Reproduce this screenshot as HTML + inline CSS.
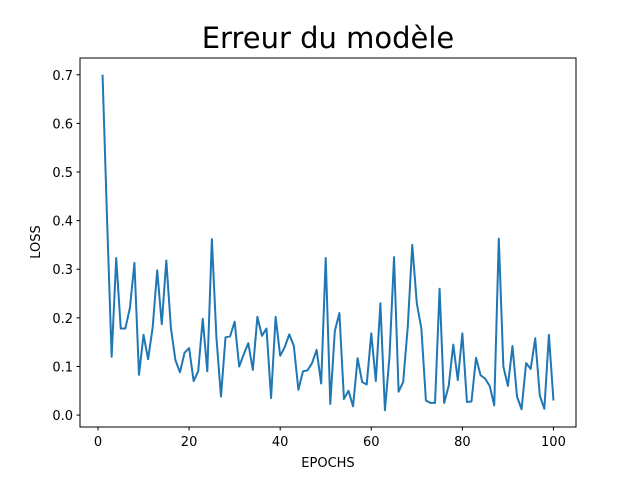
<!DOCTYPE html>
<html><head><meta charset="utf-8"><style>
body{margin:0;background:#fff;}
svg text{font-family:"DejaVu Sans","Liberation Sans",sans-serif;fill:#000;}
</style></head><body>
<svg id="chart" width="640" height="480">
<rect width="640" height="480" fill="#fff"/>
<text x="328" y="48" font-size="29" text-anchor="middle">Erreur du modèle</text>
<g id="ticks"></g>
<polyline id="line" fill="none" stroke="#1f77b4" stroke-width="2" stroke-linejoin="round"/>
<rect x="80" y="58" width="496" height="369" fill="none" stroke="#000" stroke-width="1"/>
<text x="328" y="467" font-size="13" text-anchor="middle">EPOCHS</text>
<text transform="translate(40,242) rotate(-90)" font-size="13" text-anchor="middle">LOSS</text>
</svg>
<script>
const loss=[0.70,0.40,0.12,0.323,0.178,0.178,0.22,0.313,0.083,0.165,0.115,0.18,0.298,0.187,0.318,0.18,0.113,0.088,0.128,0.138,0.07,0.09,0.198,0.09,0.362,0.16,0.038,0.16,0.162,0.192,0.1,0.125,0.148,0.093,0.202,0.163,0.178,0.035,0.202,0.122,0.14,0.166,0.142,0.052,0.09,0.092,0.107,0.134,0.065,0.323,0.023,0.173,0.21,0.033,0.05,0.018,0.117,0.068,0.063,0.168,0.07,0.23,0.01,0.12,0.325,0.048,0.068,0.18,0.35,0.23,0.178,0.03,0.025,0.025,0.26,0.025,0.06,0.145,0.072,0.168,0.027,0.028,0.118,0.082,0.075,0.06,0.02,0.363,0.1,0.06,0.142,0.038,0.012,0.107,0.095,0.158,0.04,0.013,0.165,0.03];
const xTicks=[0,20,40,60,80,100];
const yTicks=[0.0,0.1,0.2,0.3,0.4,0.5,0.6,0.7];
const n=loss.length;
const xmin=1-0.05*(n-1), xmax=n+0.05*(n-1);
const lo=Math.min(...loss), hi=Math.max(...loss), m=0.05*(hi-lo);
const ymin=lo-m, ymax=hi+m;
const L=80,R=576,T=58,B=427;
const sx=x=>L+(x-xmin)/(xmax-xmin)*(R-L);
const sy=y=>B-(y-ymin)/(ymax-ymin)*(B-T);
const NS="http://www.w3.org/2000/svg";
const line=document.getElementById('line');
line.setAttribute('points',loss.map((v,i)=>sx(i+1).toFixed(2)+','+sy(v).toFixed(2)).join(' '));
const g=document.getElementById('ticks');
xTicks.forEach(t=>{
 const l=document.createElementNS(NS,'line');
 l.setAttribute('x1',sx(t));l.setAttribute('x2',sx(t));l.setAttribute('y1',B);l.setAttribute('y2',B+3.5);l.setAttribute('stroke','#000');
 
 
 g.appendChild(l);
 const tx=document.createElementNS(NS,'text');
 tx.setAttribute('x',sx(t));tx.setAttribute('y',B+19);tx.setAttribute('font-size','13');tx.setAttribute('text-anchor','middle');
 tx.textContent=t;
 
 
 g.appendChild(tx);
});
yTicks.forEach(t=>{
 const l=document.createElementNS(NS,'line');
 l.setAttribute('x1',L-3.5);l.setAttribute('x2',L);l.setAttribute('y1',sy(t));l.setAttribute('y2',sy(t));l.setAttribute('stroke','#000');
 
 
 g.appendChild(l);
 const tx=document.createElementNS(NS,'text');
 tx.setAttribute('x',L-7);tx.setAttribute('y',sy(t)+5);tx.setAttribute('font-size','13');tx.setAttribute('text-anchor','end');
 tx.textContent=t.toFixed(1);
 
 
 g.appendChild(tx);
});
</script>
</body></html>
